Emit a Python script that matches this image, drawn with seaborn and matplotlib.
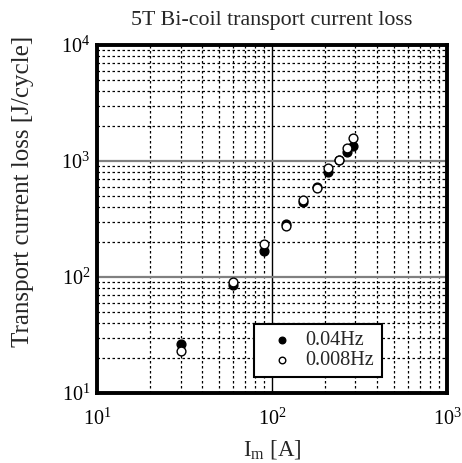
import matplotlib
matplotlib.use("Agg")
import matplotlib.pyplot as plt
from matplotlib.ticker import LogLocator, LogFormatterMathtext, NullFormatter
import numpy as np
import pandas as pd
import seaborn as sns

# Measured transport current loss of the 5T Bi-coil
current_a = [30, 60, 90, 120, 150, 180, 210, 240, 270, 290]
loss_004hz = [26.5, 86, 169, 286, 446, 600, 798, 1010, 1203, 1356]
loss_0008hz = [23.2, 91, 194, 277, 461, 582, 865, 1014, 1302, 1589]
freq_labels = ["0.04Hz", "0.008Hz"]

df = pd.DataFrame({
    "current": current_a * 2,
    "loss": loss_004hz + loss_0008hz,
    "freq": [freq_labels[0]] * len(current_a) + [freq_labels[1]] * len(current_a),
})

sns.set_theme(style="white")
plt.rcParams["font.family"] = ["Liberation Serif", "DejaVu Serif"]
plt.rcParams["mathtext.fontset"] = "custom"
plt.rcParams["mathtext.rm"] = "Liberation Serif"
plt.rcParams["mathtext.it"] = "Liberation Serif:italic"
plt.rcParams["mathtext.bf"] = "Liberation Serif:bold"

fig = plt.figure(figsize=(4.62, 4.63), dpi=100)
ax = fig.add_axes([0.21, 0.151, 0.7575, 0.752])

ax.set_xscale("log")
ax.set_yscale("log")
ax.set_xlim(10, 1000)
ax.set_ylim(10, 10000)

# grid: dotted minor lines, solid major lines
ax.xaxis.set_major_locator(LogLocator(base=10, numticks=10))
ax.yaxis.set_major_locator(LogLocator(base=10, numticks=10))
ax.xaxis.set_minor_locator(LogLocator(base=10, subs=np.arange(2, 10), numticks=20))
ax.yaxis.set_minor_locator(LogLocator(base=10, subs=np.arange(2, 10), numticks=20))
ax.xaxis.set_major_formatter(LogFormatterMathtext())
ax.yaxis.set_major_formatter(LogFormatterMathtext())
ax.xaxis.set_minor_formatter(NullFormatter())
ax.yaxis.set_minor_formatter(NullFormatter())

ax.grid(which="minor", axis="both", color="black", linestyle=(0, (2, 2)), linewidth=0.9)
ax.grid(which="major", axis="y", color="#808080", linestyle="-", linewidth=1.6)
ax.grid(which="major", axis="x", color="black", linestyle="-", linewidth=1.0)
ax.set_axisbelow(True)

sns.scatterplot(data=df[df["freq"] == freq_labels[0]], x="current", y="loss",
                color="black", edgecolor="black", linewidth=1.0, s=40,
                label=freq_labels[0], ax=ax, zorder=3)
sns.scatterplot(data=df[df["freq"] == freq_labels[1]], x="current", y="loss",
                color="white", edgecolor="black", linewidth=1.0, s=40,
                label=freq_labels[1], ax=ax, zorder=4)

for sp in ax.spines.values():
    sp.set_color("black")
    sp.set_linewidth(2.8)

ax.tick_params(which="both", length=0, labelsize=14.5, colors="black")
ax.tick_params(axis="x", pad=11)
ax.tick_params(axis="y", pad=5)

ax.set_title("5T Bi-coil transport current loss", fontsize=15.8, pad=14)
ax.set_xlabel(r"I$_\mathrm{m}$ [A]", fontsize=16.5, labelpad=6)
ax.set_ylabel("Transport current loss [J/cycle]", fontsize=18)
ax.yaxis.set_label_coords(-0.18, 0.58)

leg = ax.legend(loc="lower left", bbox_to_anchor=(0.449, 0.045), fontsize=14.6,
                frameon=True, fancybox=False, edgecolor="black", framealpha=1,
                handletextpad=0.17, borderpad=0.37, labelspacing=0.02,
                handlelength=2.0, markerscale=0.75, borderaxespad=0)
leg.get_frame().set_linewidth(1.5)

fig.savefig("out.png", dpi=100)
